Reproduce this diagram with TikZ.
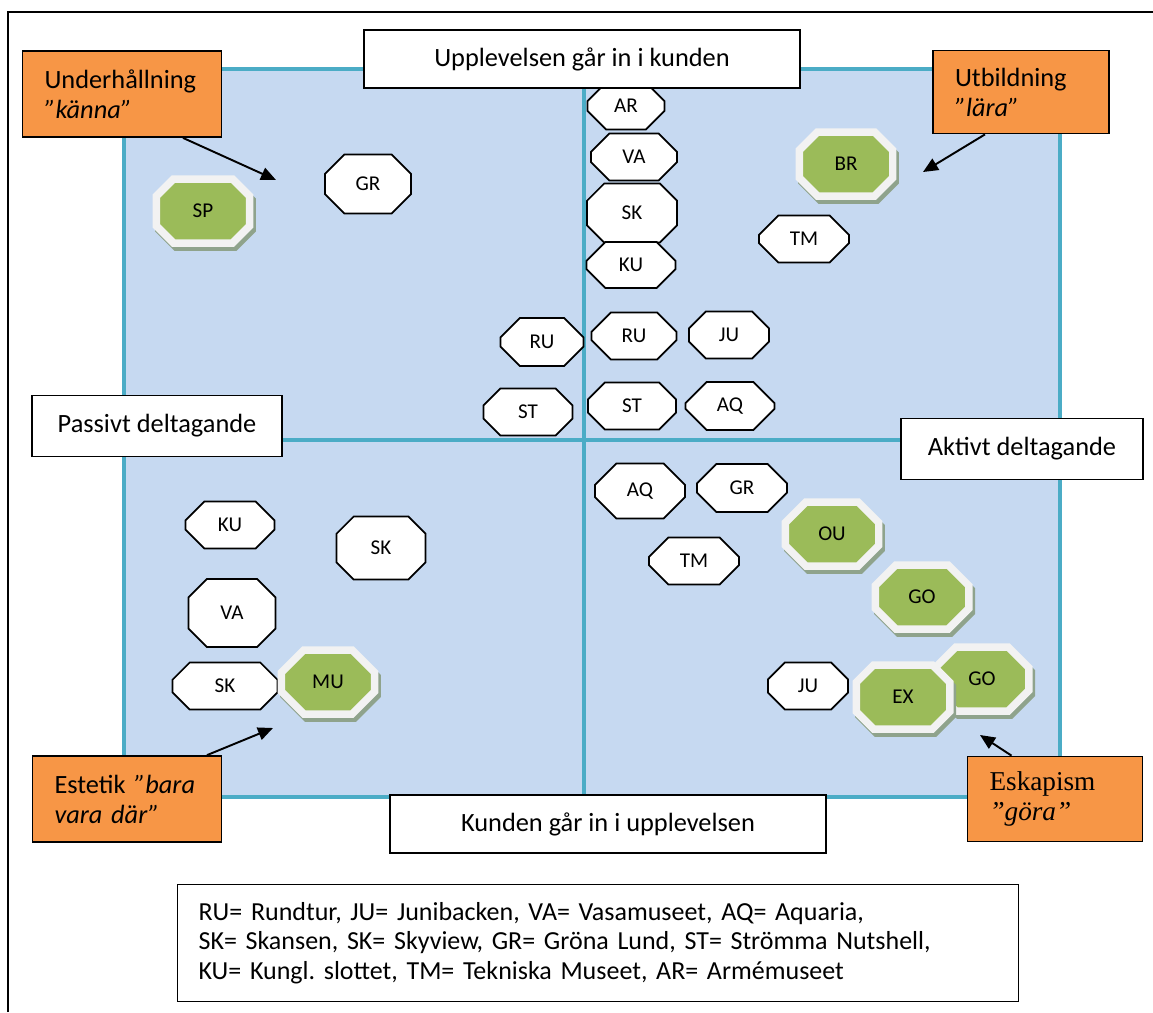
\documentclass[tikz,border=0pt]{standalone}
\usepackage{fontspec}
\setmainfont{Carlito}
\newfontfamily\timesfont{Liberation Serif}
\usetikzlibrary{shapes.misc,arrows.meta}
\definecolor{quadfill}{HTML}{C6D9F1}
\definecolor{quadline}{HTML}{4BACC6}
\definecolor{taggold}{HTML}{F79646}
\definecolor{octgreen}{HTML}{9BBB59}
\definecolor{octrim}{HTML}{F2F2F2}
\definecolor{octshadow}{HTML}{8FA38C}
\frenchspacing
\tikzset{
  oct/.style 2 args={chamfered rectangle, draw, fill=white, line width=1pt, inner sep=0pt,
    minimum width=#1*0.02cm, minimum height=#2*0.02cm,
    chamfered rectangle sep=#2*0.0054cm, font=\fontsize{12}{14}\selectfont},
  goct/.style={chamfered rectangle, fill=octgreen, draw=octrim, line width=0.15cm, inner sep=0pt,
    minimum width=1.87cm, minimum height=1.28cm, chamfered rectangle sep=0.36cm,
    preaction={draw=octshadow, line width=0.15cm, transform canvas={shift={(0.05cm,-0.08cm)}}},
    font=\fontsize{12}{14}\selectfont},
  axisbox/.style 2 args={draw, fill=white, line width=1pt,
    minimum width=#1*0.02cm, minimum height=#2*0.02cm, font=\fontsize{15}{18}\selectfont},
  tagbox/.style 2 args={draw, fill=taggold, line width=1pt, align=left,
    minimum width=#1*0.02cm, minimum height=#2*0.02cm, font=\fontsize{15}{17}\selectfont},
  arr/.style={line width=1.1pt, -{Triangle[length=0.3cm,width=0.26cm]}}
}
\begin{document}
\begin{tikzpicture}[x=0.02cm,y=-0.02cm]
\useasboundingbox (0,0) rectangle (1153,1012);
% 外框
\draw[line width=1.1pt] (8,1012) -- (8,12) -- (1153,12);
% 四个象限
\draw[draw=quadline, fill=quadfill, line width=2pt] (124,69) rectangle (1060,797);
\draw[quadline, line width=2pt] (584,69) -- (584,797);
\draw[quadline, line width=2pt] (124,440) -- (1060,440);
% 左上
\node[oct={86}{59}] (gr1) at (368,184) {GR};
\node[oct={83}{48}] (ru1) at (542,342) {RU};
\node[oct={89}{47}] (st1) at (528,412) {ST};
\node[goct] (sp) at (203,211) {SP};
% 右上
\node[oct={77}{47}] (ar) at (626,106) {AR};
\node[oct={86}{47}] (va1) at (634,157) {VA};
\node[oct={90}{59}] (sk1) at (632,213) {SK};
\node[oct={89}{46}] (ku1) at (631,265) {KU};
\node[oct={85}{47}] (ru2) at (634,336) {RU};
\node[oct={80}{47}] (ju1) at (729,335) {JU};
\node[oct={88}{47}] (st2) at (632,406) {ST};
\node[oct={89}{48}] (aq1) at (730,406) {AQ};
\node[oct={90}{47}] (tm1) at (804,239) {TM};
\node[goct] (br) at (846,164) {BR};
% 左下
\node[oct={89}{47}] (ku2) at (230,525) {KU};
\node[oct={89}{63}] (sk2) at (381,548) {SK};
\node[oct={87}{68}] (va2) at (232,613) {VA};
\node[oct={105}{47}] (sk3) at (225,686) {SK};
\node[goct] (mu) at (328,682) {MU};
% 右下
\node[oct={90}{55}] (aq2) at (640,491) {AQ};
\node[oct={90}{48}] (gr2) at (742,488) {GR};
\node[oct={90}{47}] (tm2) at (694,561) {TM};
\node[oct={80}{47}] (ju2) at (808,686) {JU};
\node[goct] (ou) at (832,534) {OU};
\node[goct] (go1) at (922,597) {GO};
\node[goct] (go2) at (982,679) {GO};
\node[goct] (ex) at (903,697) {EX};
% 坐标轴说明
\node[axisbox={436}{58}] (inre) at (582,59) {Upplevelsen går in i kunden};
\node[axisbox={250}{61}] (passiv) at (157,426) {Passivt deltagande};
\node[axisbox={242}{61}] (aktiv) at (1022,449) {Aktivt deltagande};
\node[axisbox={436}{58}] (yttre) at (608,824) {Kunden går in i upplevelsen};
% 四个领域
\node[tagbox={199}{86}, text width=3.1cm] (under) at (122,94) {Underhållning\\\textit{”känna”}};
\node[tagbox={176}{83}, text width=2.64cm] (utb) at (1021,92) {Utbildning\\\textit{”lära”}};
\node[tagbox={189}{86}, text width=2.9cm] (estetik) at (127,799) {Estetik \textit{”bara}\\\textit{vara där”}};
\node[tagbox={175}{85}, text width=2.62cm, font=\timesfont\fontsize{15.5}{17}\selectfont] (eskap) at (1055,799) {Eskapism\\\textit{”göra”}};
\coordinate (kannatip) at (276,180);
\coordinate (laratip) at (923,172);
\coordinate (varatip) at (273,728);
\coordinate (goratip) at (980,735);
\draw[arr] ([xshift=1.22cm]under.south) -- (kannatip);
\draw[arr] ([xshift=-0.72cm]utb.south) -- (laratip);
\draw[arr] ([xshift=1.6cm]estetik.north) -- (varatip);
\draw[arr] ([xshift=-0.87cm]eskap.north) -- (goratip);
% 缩写
\node[draw, fill=white, line width=1pt, minimum width=16.82cm, minimum height=2.34cm,
  text width=15.98cm, align=left, font=\fontsize{14.8}{16.7}\selectfont] (legend) at (598,943)
  {RU= Rundtur, JU= Junibacken, VA= Vasamuseet, AQ= Aquaria,\\
   SK= Skansen, SK= Skyview, GR= Gröna Lund, ST= Strömma Nutshell,\\
   KU= Kungl. slottet, TM= Tekniska Museet, AR= Armémuseet};
\end{tikzpicture}
\end{document}
